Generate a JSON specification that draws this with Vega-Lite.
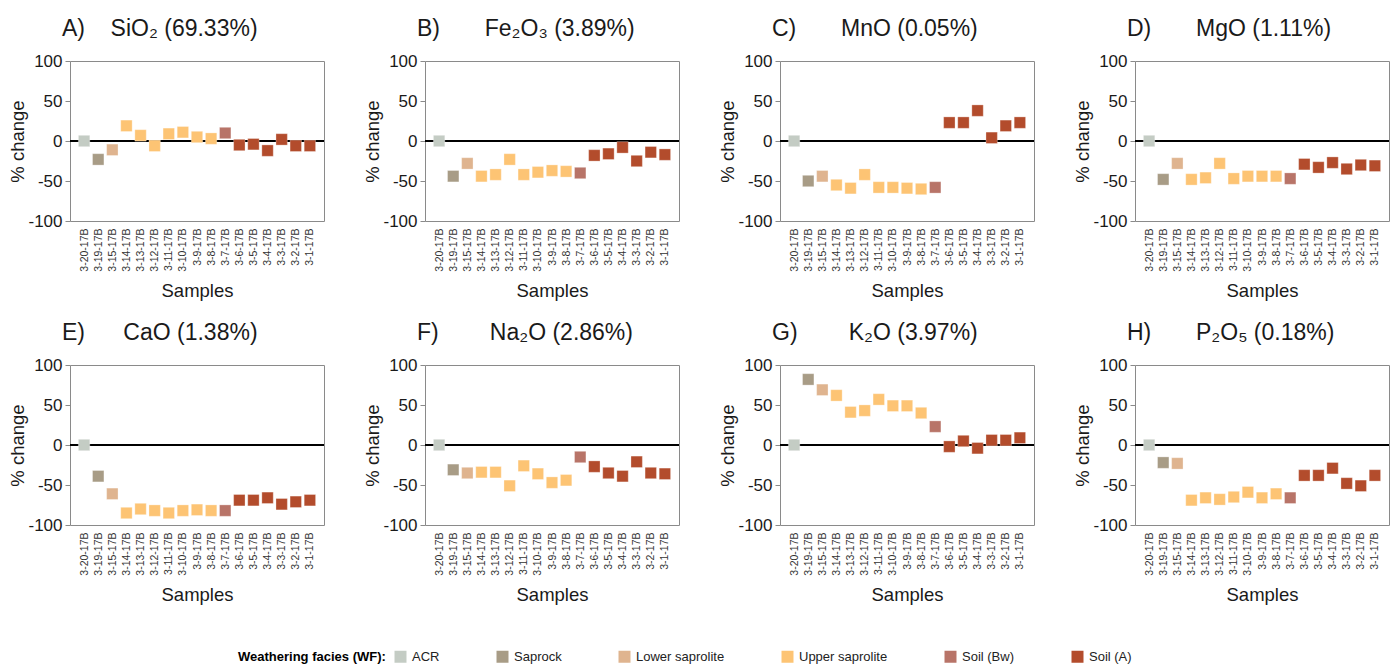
{
  "$schema": "https://vega.github.io/schema/vega-lite/v6.json",
  "padding": {"left": 8, "top": 17, "right": 5, "bottom": 0},
  "background": "white",
  "data": {"values": [
    {"s": "3-20-17B", "f": "ACR", "SiO2": 0, "Fe2O3": 0, "MnO": 0, "MgO": 0, "CaO": 0, "Na2O": 0, "K2O": 0, "P2O5": 0},
    {"s": "3-19-17B", "f": "Saprock", "SiO2": -23, "Fe2O3": -44, "MnO": -50, "MgO": -48, "CaO": -39, "Na2O": -31, "K2O": 82, "P2O5": -22},
    {"s": "3-15-17B", "f": "Lower saprolite", "SiO2": -11, "Fe2O3": -28, "MnO": -44, "MgO": -28, "CaO": -61, "Na2O": -35, "K2O": 69, "P2O5": -23},
    {"s": "3-14-17B", "f": "Upper saprolite", "SiO2": 19, "Fe2O3": -44, "MnO": -55, "MgO": -48, "CaO": -85, "Na2O": -34, "K2O": 62, "P2O5": -69},
    {"s": "3-13-17B", "f": "Upper saprolite", "SiO2": 7, "Fe2O3": -42, "MnO": -59, "MgO": -46, "CaO": -80, "Na2O": -34, "K2O": 41, "P2O5": -66},
    {"s": "3-12-17B", "f": "Upper saprolite", "SiO2": -6, "Fe2O3": -23, "MnO": -42, "MgO": -28, "CaO": -82, "Na2O": -51, "K2O": 43, "P2O5": -68},
    {"s": "3-11-17B", "f": "Upper saprolite", "SiO2": 9, "Fe2O3": -42, "MnO": -58, "MgO": -47, "CaO": -85, "Na2O": -26, "K2O": 57, "P2O5": -65},
    {"s": "3-10-17B", "f": "Upper saprolite", "SiO2": 11, "Fe2O3": -39, "MnO": -58, "MgO": -44, "CaO": -82, "Na2O": -36, "K2O": 49, "P2O5": -59},
    {"s": "3-9-17B", "f": "Upper saprolite", "SiO2": 5, "Fe2O3": -37, "MnO": -59, "MgO": -44, "CaO": -81, "Na2O": -47, "K2O": 49, "P2O5": -66},
    {"s": "3-8-17B", "f": "Upper saprolite", "SiO2": 3, "Fe2O3": -38, "MnO": -60, "MgO": -44, "CaO": -82, "Na2O": -44, "K2O": 40, "P2O5": -61},
    {"s": "3-7-17B", "f": "Soil (Bw)", "SiO2": 10, "Fe2O3": -40, "MnO": -58, "MgO": -47, "CaO": -82, "Na2O": -15, "K2O": 23, "P2O5": -66},
    {"s": "3-6-17B", "f": "Soil (A)", "SiO2": -5, "Fe2O3": -18, "MnO": 23, "MgO": -29, "CaO": -69, "Na2O": -27, "K2O": -2, "P2O5": -38},
    {"s": "3-5-17B", "f": "Soil (A)", "SiO2": -4, "Fe2O3": -16, "MnO": 23, "MgO": -33, "CaO": -69, "Na2O": -35, "K2O": 5, "P2O5": -38},
    {"s": "3-4-17B", "f": "Soil (A)", "SiO2": -12, "Fe2O3": -8, "MnO": 38, "MgO": -27, "CaO": -66, "Na2O": -39, "K2O": -4, "P2O5": -29},
    {"s": "3-3-17B", "f": "Soil (A)", "SiO2": 2, "Fe2O3": -25, "MnO": 4, "MgO": -35, "CaO": -74, "Na2O": -21, "K2O": 6, "P2O5": -48},
    {"s": "3-2-17B", "f": "Soil (A)", "SiO2": -6, "Fe2O3": -14, "MnO": 19, "MgO": -30, "CaO": -71, "Na2O": -35, "K2O": 6, "P2O5": -51},
    {"s": "3-1-17B", "f": "Soil (A)", "SiO2": -6, "Fe2O3": -17, "MnO": 23, "MgO": -31, "CaO": -69, "Na2O": -36, "K2O": 9, "P2O5": -38}
  ]},
  "columns": 4,
  "spacing": {"row": 20, "column": 37},
  "concat": [
    {"width": 254, "height": 160, "title": {"text": "A)\u00a0\u00a0\u00a0\u00a0SiO₂ (69.33%)"},
     "layer": [
      {"mark": {"type": "rule", "color": "#000", "strokeWidth": 1.6}, "encoding": {"y": {"datum": 0, "type": "quantitative", "scale": {"domain": [-100, 100], "nice": false}, "title": "% change"}}},
      {"mark": {"type": "square", "size": 130, "opacity": 1, "stroke": "white", "strokeWidth": 0.6, "strokeOpacity": 0.5},
       "encoding": {
        "x": {"field": "s", "type": "nominal", "sort": ["3-20-17B","3-19-17B","3-15-17B","3-14-17B","3-13-17B","3-12-17B","3-11-17B","3-10-17B","3-9-17B","3-8-17B","3-7-17B","3-6-17B","3-5-17B","3-4-17B","3-3-17B","3-2-17B","3-1-17B"], "scale": {"type": "point", "padding": 1}, "title": "Samples"},
        "y": {"field": "SiO2", "type": "quantitative", "scale": {"domain": [-100, 100], "nice": false}, "title": "% change"},
        "color": {"field": "f", "type": "nominal", "scale": {"domain": ["ACR", "Saprock", "Lower saprolite", "Upper saprolite", "Soil (Bw)", "Soil (A)"], "range": ["#c4ccc4", "#a89c86", "#dfb48f", "#fdc474", "#b87468", "#b34c2c"]},
          "legend": {"title": "Weathering facies (WF):", "orient": "none", "legendX": 168, "legendY": 589, "direction": "horizontal", "titleOrient": "left", "titleFontSize": 13, "titleFontWeight": "bold", "titleColor": "#000", "titlePadding": 8, "labelFontSize": 13, "labelColor": "#222", "symbolSize": 144, "symbolType": "square", "symbolStrokeWidth": 0, "columnPadding": 56, "labelOffset": 5}}
       }}
     ]},
    {"width": 254, "height": 160, "title": {"text": "B)\u00a0\u00a0\u00a0\u00a0\u00a0\u00a0\u00a0Fe₂O₃ (3.89%)"},
     "layer": [
      {"mark": {"type": "rule", "color": "#000", "strokeWidth": 1.6}, "encoding": {"y": {"datum": 0, "type": "quantitative", "scale": {"domain": [-100, 100], "nice": false}, "title": "% change"}}},
      {"mark": {"type": "square", "size": 130, "opacity": 1, "stroke": "white", "strokeWidth": 0.6, "strokeOpacity": 0.5},
       "encoding": {
        "x": {"field": "s", "type": "nominal", "sort": ["3-20-17B","3-19-17B","3-15-17B","3-14-17B","3-13-17B","3-12-17B","3-11-17B","3-10-17B","3-9-17B","3-8-17B","3-7-17B","3-6-17B","3-5-17B","3-4-17B","3-3-17B","3-2-17B","3-1-17B"], "scale": {"type": "point", "padding": 1}, "title": "Samples"},
        "y": {"field": "Fe2O3", "type": "quantitative", "scale": {"domain": [-100, 100], "nice": false}, "title": "% change"},
        "color": {"field": "f", "type": "nominal", "legend": {"title": "Weathering facies (WF):", "orient": "none", "legendX": 168, "legendY": 589, "direction": "horizontal", "titleOrient": "left", "titleFontSize": 13, "titleFontWeight": "bold", "titleColor": "#000", "titlePadding": 8, "labelFontSize": 13, "labelColor": "#222", "symbolSize": 144, "symbolType": "square", "symbolStrokeWidth": 0, "columnPadding": 56, "labelOffset": 5}}
       }}
     ]},
    {"width": 254, "height": 160, "title": {"text": "C)\u00a0\u00a0\u00a0\u00a0\u00a0\u00a0\u00a0MnO (0.05%)"},
     "layer": [
      {"mark": {"type": "rule", "color": "#000", "strokeWidth": 1.6}, "encoding": {"y": {"datum": 0, "type": "quantitative", "scale": {"domain": [-100, 100], "nice": false}, "title": "% change"}}},
      {"mark": {"type": "square", "size": 130, "opacity": 1, "stroke": "white", "strokeWidth": 0.6, "strokeOpacity": 0.5},
       "encoding": {
        "x": {"field": "s", "type": "nominal", "sort": ["3-20-17B","3-19-17B","3-15-17B","3-14-17B","3-13-17B","3-12-17B","3-11-17B","3-10-17B","3-9-17B","3-8-17B","3-7-17B","3-6-17B","3-5-17B","3-4-17B","3-3-17B","3-2-17B","3-1-17B"], "scale": {"type": "point", "padding": 1}, "title": "Samples"},
        "y": {"field": "MnO", "type": "quantitative", "scale": {"domain": [-100, 100], "nice": false}, "title": "% change"},
        "color": {"field": "f", "type": "nominal", "legend": {"title": "Weathering facies (WF):", "orient": "none", "legendX": 168, "legendY": 589, "direction": "horizontal", "titleOrient": "left", "titleFontSize": 13, "titleFontWeight": "bold", "titleColor": "#000", "titlePadding": 8, "labelFontSize": 13, "labelColor": "#222", "symbolSize": 144, "symbolType": "square", "symbolStrokeWidth": 0, "columnPadding": 56, "labelOffset": 5}}
       }}
     ]},
    {"width": 254, "height": 160, "title": {"text": "D)\u00a0\u00a0\u00a0\u00a0\u00a0\u00a0\u00a0MgO (1.11%)"},
     "layer": [
      {"mark": {"type": "rule", "color": "#000", "strokeWidth": 1.6}, "encoding": {"y": {"datum": 0, "type": "quantitative", "scale": {"domain": [-100, 100], "nice": false}, "title": "% change"}}},
      {"mark": {"type": "square", "size": 130, "opacity": 1, "stroke": "white", "strokeWidth": 0.6, "strokeOpacity": 0.5},
       "encoding": {
        "x": {"field": "s", "type": "nominal", "sort": ["3-20-17B","3-19-17B","3-15-17B","3-14-17B","3-13-17B","3-12-17B","3-11-17B","3-10-17B","3-9-17B","3-8-17B","3-7-17B","3-6-17B","3-5-17B","3-4-17B","3-3-17B","3-2-17B","3-1-17B"], "scale": {"type": "point", "padding": 1}, "title": "Samples"},
        "y": {"field": "MgO", "type": "quantitative", "scale": {"domain": [-100, 100], "nice": false}, "title": "% change"},
        "color": {"field": "f", "type": "nominal", "legend": {"title": "Weathering facies (WF):", "orient": "none", "legendX": 168, "legendY": 589, "direction": "horizontal", "titleOrient": "left", "titleFontSize": 13, "titleFontWeight": "bold", "titleColor": "#000", "titlePadding": 8, "labelFontSize": 13, "labelColor": "#222", "symbolSize": 144, "symbolType": "square", "symbolStrokeWidth": 0, "columnPadding": 56, "labelOffset": 5}}
       }}
     ]},
    {"width": 254, "height": 160, "title": {"text": "E)\u00a0\u00a0\u00a0\u00a0\u00a0\u00a0CaO (1.38%)"},
     "layer": [
      {"mark": {"type": "rule", "color": "#000", "strokeWidth": 1.6}, "encoding": {"y": {"datum": 0, "type": "quantitative", "scale": {"domain": [-100, 100], "nice": false}, "title": "% change"}}},
      {"mark": {"type": "square", "size": 130, "opacity": 1, "stroke": "white", "strokeWidth": 0.6, "strokeOpacity": 0.5},
       "encoding": {
        "x": {"field": "s", "type": "nominal", "sort": ["3-20-17B","3-19-17B","3-15-17B","3-14-17B","3-13-17B","3-12-17B","3-11-17B","3-10-17B","3-9-17B","3-8-17B","3-7-17B","3-6-17B","3-5-17B","3-4-17B","3-3-17B","3-2-17B","3-1-17B"], "scale": {"type": "point", "padding": 1}, "title": "Samples"},
        "y": {"field": "CaO", "type": "quantitative", "scale": {"domain": [-100, 100], "nice": false}, "title": "% change"},
        "color": {"field": "f", "type": "nominal", "legend": {"title": "Weathering facies (WF):", "orient": "none", "legendX": 168, "legendY": 589, "direction": "horizontal", "titleOrient": "left", "titleFontSize": 13, "titleFontWeight": "bold", "titleColor": "#000", "titlePadding": 8, "labelFontSize": 13, "labelColor": "#222", "symbolSize": 144, "symbolType": "square", "symbolStrokeWidth": 0, "columnPadding": 56, "labelOffset": 5}}
       }}
     ]},
    {"width": 254, "height": 160, "title": {"text": "F)\u00a0\u00a0\u00a0\u00a0\u00a0\u00a0\u00a0\u00a0Na₂O (2.86%)"},
     "layer": [
      {"mark": {"type": "rule", "color": "#000", "strokeWidth": 1.6}, "encoding": {"y": {"datum": 0, "type": "quantitative", "scale": {"domain": [-100, 100], "nice": false}, "title": "% change"}}},
      {"mark": {"type": "square", "size": 130, "opacity": 1, "stroke": "white", "strokeWidth": 0.6, "strokeOpacity": 0.5},
       "encoding": {
        "x": {"field": "s", "type": "nominal", "sort": ["3-20-17B","3-19-17B","3-15-17B","3-14-17B","3-13-17B","3-12-17B","3-11-17B","3-10-17B","3-9-17B","3-8-17B","3-7-17B","3-6-17B","3-5-17B","3-4-17B","3-3-17B","3-2-17B","3-1-17B"], "scale": {"type": "point", "padding": 1}, "title": "Samples"},
        "y": {"field": "Na2O", "type": "quantitative", "scale": {"domain": [-100, 100], "nice": false}, "title": "% change"},
        "color": {"field": "f", "type": "nominal", "legend": {"title": "Weathering facies (WF):", "orient": "none", "legendX": 168, "legendY": 589, "direction": "horizontal", "titleOrient": "left", "titleFontSize": 13, "titleFontWeight": "bold", "titleColor": "#000", "titlePadding": 8, "labelFontSize": 13, "labelColor": "#222", "symbolSize": 144, "symbolType": "square", "symbolStrokeWidth": 0, "columnPadding": 56, "labelOffset": 5}}
       }}
     ]},
    {"width": 254, "height": 160, "title": {"text": "G)\u00a0\u00a0\u00a0\u00a0\u00a0\u00a0\u00a0\u00a0K₂O (3.97%)"},
     "layer": [
      {"mark": {"type": "rule", "color": "#000", "strokeWidth": 1.6}, "encoding": {"y": {"datum": 0, "type": "quantitative", "scale": {"domain": [-100, 100], "nice": false}, "title": "% change"}}},
      {"mark": {"type": "square", "size": 130, "opacity": 1, "stroke": "white", "strokeWidth": 0.6, "strokeOpacity": 0.5},
       "encoding": {
        "x": {"field": "s", "type": "nominal", "sort": ["3-20-17B","3-19-17B","3-15-17B","3-14-17B","3-13-17B","3-12-17B","3-11-17B","3-10-17B","3-9-17B","3-8-17B","3-7-17B","3-6-17B","3-5-17B","3-4-17B","3-3-17B","3-2-17B","3-1-17B"], "scale": {"type": "point", "padding": 1}, "title": "Samples"},
        "y": {"field": "K2O", "type": "quantitative", "scale": {"domain": [-100, 100], "nice": false}, "title": "% change"},
        "color": {"field": "f", "type": "nominal", "legend": {"title": "Weathering facies (WF):", "orient": "none", "legendX": 168, "legendY": 589, "direction": "horizontal", "titleOrient": "left", "titleFontSize": 13, "titleFontWeight": "bold", "titleColor": "#000", "titlePadding": 8, "labelFontSize": 13, "labelColor": "#222", "symbolSize": 144, "symbolType": "square", "symbolStrokeWidth": 0, "columnPadding": 56, "labelOffset": 5}}
       }}
     ]},
    {"width": 254, "height": 160, "title": {"text": "H)\u00a0\u00a0\u00a0\u00a0\u00a0\u00a0\u00a0P₂O₅ (0.18%)"},
     "layer": [
      {"mark": {"type": "rule", "color": "#000", "strokeWidth": 1.6}, "encoding": {"y": {"datum": 0, "type": "quantitative", "scale": {"domain": [-100, 100], "nice": false}, "title": "% change"}}},
      {"mark": {"type": "square", "size": 130, "opacity": 1, "stroke": "white", "strokeWidth": 0.6, "strokeOpacity": 0.5},
       "encoding": {
        "x": {"field": "s", "type": "nominal", "sort": ["3-20-17B","3-19-17B","3-15-17B","3-14-17B","3-13-17B","3-12-17B","3-11-17B","3-10-17B","3-9-17B","3-8-17B","3-7-17B","3-6-17B","3-5-17B","3-4-17B","3-3-17B","3-2-17B","3-1-17B"], "scale": {"type": "point", "padding": 1}, "title": "Samples"},
        "y": {"field": "P2O5", "type": "quantitative", "scale": {"domain": [-100, 100], "nice": false}, "title": "% change"},
        "color": {"field": "f", "type": "nominal", "legend": {"title": "Weathering facies (WF):", "orient": "none", "legendX": 168, "legendY": 589, "direction": "horizontal", "titleOrient": "left", "titleFontSize": 13, "titleFontWeight": "bold", "titleColor": "#000", "titlePadding": 8, "labelFontSize": 13, "labelColor": "#222", "symbolSize": 144, "symbolType": "square", "symbolStrokeWidth": 0, "columnPadding": 56, "labelOffset": 5}}
       }}
     ]}
  ],
  "config": {
    "font": "Liberation Sans",
    "view": {"stroke": "#8a8a8a", "strokeWidth": 1},
    "axis": {"grid": false, "domain": false, "labelColor": "#1a1a1a", "titleColor": "#1a1a1a", "titleFontWeight": "normal"},
    "axisY": {"labelFontSize": 17, "titleFontSize": 18.5, "tickColor": "#8a8a8a", "tickSize": 5, "labelPadding": 3, "titlePadding": 0, "values": [-100, -50, 0, 50, 100], "labelExpr": "'' + datum.value"},
    "axisX": {"labelFontSize": 10.5, "labelAngle": -90, "ticks": false, "labelPadding": 7, "titleFontSize": 18.5, "titlePadding": 10, "labelColor": "#333"},
    "title": {"fontSize": 23, "fontWeight": "normal", "anchor": "start", "frame": "group", "dx": -8, "offset": 11, "color": "#1a1a1a"}
  }
}
